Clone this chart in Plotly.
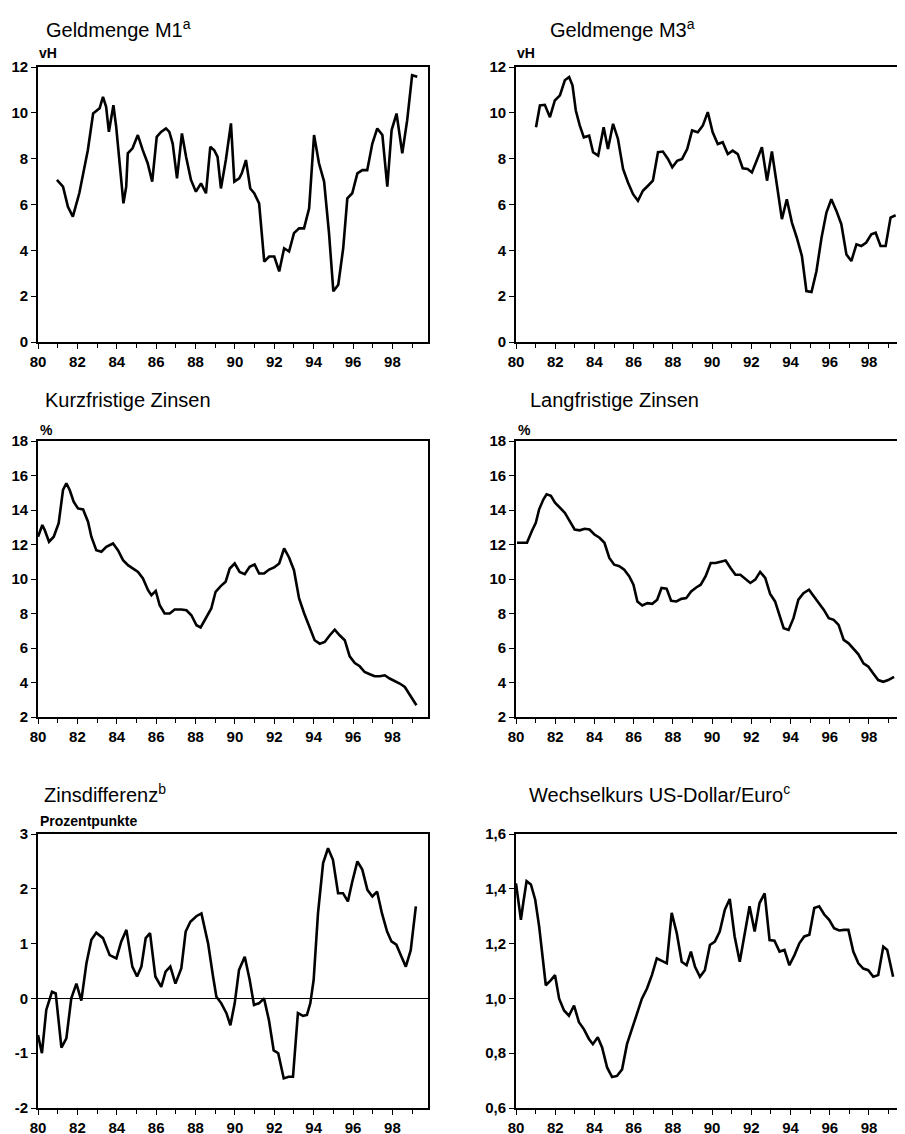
import plotly.graph_objects as go

# ---------------- data (years as 19xx decimal, values) ----------------
m1_years = [80.96, 81.27, 81.52, 81.77, 82.10, 82.36, 82.53, 82.80, 82.96, 83.13,
            83.30, 83.46, 83.60, 83.70, 83.83, 83.97, 84.17, 84.34, 84.48, 84.56,
            84.80, 85.07, 85.32, 85.57, 85.80, 86.03, 86.25, 86.50, 86.67, 86.84,
            87.06, 87.31, 87.52, 87.77, 88.02, 88.28, 88.53, 88.75, 88.95, 89.12,
            89.29, 89.54, 89.80, 89.97, 90.22, 90.35, 90.56, 90.78, 90.98, 91.23,
            91.49, 91.74, 92.00, 92.25, 92.50, 92.75, 93.00, 93.26, 93.51, 93.77,
            94.02, 94.27, 94.53, 94.78, 95.00, 95.25, 95.50, 95.71, 95.96, 96.22,
            96.47, 96.72, 96.98, 97.23, 97.49, 97.74, 97.96, 98.21, 98.50, 98.75,
            99.00, 99.26]
m1_values = [7.07, 6.78, 5.90, 5.47, 6.50, 7.65, 8.37, 9.97, 10.10, 10.20,
             10.70, 10.26, 9.17, 9.68, 10.33, 9.40, 7.65, 6.05, 6.78, 8.23,
             8.45, 9.03, 8.37, 7.80, 7.00, 8.95, 9.17, 9.32, 9.17, 8.66,
             7.14, 9.10, 8.08, 7.07, 6.56, 6.92, 6.49, 8.52, 8.37, 8.08,
             6.70, 7.94, 9.54, 7.00, 7.14, 7.36, 7.94, 6.70, 6.49, 6.05,
             3.51, 3.73, 3.73, 3.08, 4.09, 3.95, 4.75, 4.96, 4.96, 5.83,
             9.03, 7.80, 7.00, 4.75, 2.21, 2.50, 4.09, 6.27, 6.49, 7.36,
             7.50, 7.50, 8.66, 9.32, 9.03, 6.78, 9.25, 9.97, 8.23, 9.68,
             11.64, 11.57]

m3_years = [81.02, 81.22, 81.47, 81.73, 81.98, 82.24, 82.49, 82.71, 82.88, 83.05,
            83.25, 83.46, 83.73, 83.93, 84.19, 84.47, 84.69, 84.95, 85.20, 85.46,
            85.71, 85.97, 86.22, 86.47, 86.73, 86.98, 87.24, 87.49, 87.75, 87.97,
            88.22, 88.47, 88.73, 88.98, 89.27, 89.53, 89.78, 90.03, 90.29, 90.54,
            90.80, 91.05, 91.31, 91.56, 91.81, 92.03, 92.27, 92.54, 92.80, 93.05,
            93.31, 93.56, 93.81, 94.07, 94.32, 94.58, 94.81, 95.07, 95.32, 95.58,
            95.83, 96.08, 96.34, 96.59, 96.85, 97.10, 97.36, 97.61, 97.86, 98.12,
            98.34, 98.59, 98.85, 99.10, 99.36]
m3_values = [9.37, 10.32, 10.35, 9.81, 10.54, 10.76, 11.42, 11.56, 11.20, 10.10,
             9.45, 8.93, 9.00, 8.28, 8.13, 9.37, 8.42, 9.52, 8.86, 7.55,
             6.96, 6.45, 6.16, 6.60, 6.82, 7.04, 8.28, 8.31, 7.99, 7.62,
             7.91, 7.99, 8.42, 9.23, 9.15, 9.45, 10.03, 9.15, 8.64, 8.72,
             8.20, 8.35, 8.20, 7.58, 7.55, 7.40, 7.91, 8.50, 7.04, 8.31,
             6.82, 5.36, 6.23, 5.21, 4.55, 3.75, 2.22, 2.18, 3.09, 4.55,
             5.65, 6.23, 5.72, 5.14, 3.82, 3.53, 4.26, 4.19, 4.34, 4.70,
             4.77, 4.19, 4.19, 5.43, 5.53]

kurz_years = [80.00, 80.22, 80.34, 80.56, 80.80, 81.05, 81.27, 81.44, 81.61, 81.81,
              82.03, 82.29, 82.54, 82.71, 82.96, 83.22, 83.47, 83.81, 84.06, 84.32,
              84.57, 84.83, 85.08, 85.33, 85.59, 85.76, 85.98, 86.18, 86.43, 86.69,
              86.94, 87.28, 87.54, 87.79, 88.05, 88.26, 88.55, 88.80, 89.02, 89.28,
              89.53, 89.74, 89.99, 90.24, 90.50, 90.75, 91.00, 91.23, 91.48, 91.74,
              91.99, 92.25, 92.50, 92.75, 93.00, 93.26, 93.52, 93.77, 94.05, 94.31,
              94.56, 94.82, 95.07, 95.32, 95.58, 95.83, 96.09, 96.34, 96.59, 96.85,
              97.10, 97.36, 97.61, 97.86, 98.12, 98.37, 98.63, 98.88, 99.22]
kurz_values = [12.45, 13.13, 12.84, 12.16, 12.45, 13.23, 15.16, 15.55, 15.16, 14.48,
               14.09, 14.03, 13.32, 12.45, 11.67, 11.58, 11.86, 12.06, 11.67, 11.09,
               10.80, 10.61, 10.41, 10.03, 9.35, 9.06, 9.31, 8.48, 8.00, 8.00,
               8.23, 8.23, 8.19, 7.90, 7.32, 7.19, 7.81, 8.29, 9.26, 9.59,
               9.84, 10.61, 10.90, 10.41, 10.28, 10.71, 10.84, 10.32, 10.32, 10.55,
               10.67, 10.90, 11.77, 11.25, 10.51, 8.87, 8.00, 7.22, 6.45, 6.25,
               6.35, 6.74, 7.06, 6.74, 6.45, 5.52, 5.13, 4.94, 4.61, 4.48,
               4.36, 4.36, 4.42, 4.23, 4.09, 3.94, 3.74, 3.26, 2.68]

lang_years = [80.05, 80.30, 80.56, 80.81, 81.01, 81.18, 81.40, 81.56, 81.78, 81.99,
              82.24, 82.49, 82.74, 82.99, 83.25, 83.50, 83.75, 84.00, 84.26, 84.51,
              84.76, 85.01, 85.27, 85.52, 85.77, 85.99, 86.19, 86.44, 86.70, 86.95,
              87.20, 87.42, 87.68, 87.91, 88.18, 88.43, 88.68, 88.93, 89.19, 89.42,
              89.67, 89.93, 90.18, 90.43, 90.69, 90.94, 91.19, 91.44, 91.70, 91.95,
              92.20, 92.45, 92.71, 92.96, 93.21, 93.43, 93.65, 93.90, 94.15, 94.40,
              94.66, 94.94, 95.20, 95.45, 95.70, 95.95, 96.20, 96.45, 96.71, 96.96,
              97.21, 97.46, 97.72, 97.97, 98.22, 98.47, 98.73, 98.98, 99.28]
lang_values = [12.10, 12.10, 12.10, 12.78, 13.26, 14.04, 14.62, 14.91, 14.82, 14.43,
               14.14, 13.84, 13.36, 12.87, 12.82, 12.91, 12.87, 12.58, 12.39, 12.10,
               11.22, 10.83, 10.74, 10.54, 10.16, 9.67, 8.70, 8.47, 8.60, 8.56,
               8.80, 9.48, 9.44, 8.74, 8.70, 8.85, 8.89, 9.28, 9.51, 9.67,
               10.16, 10.93, 10.93, 10.99, 11.07, 10.64, 10.25, 10.25, 10.02, 9.77,
               9.96, 10.41, 10.06, 9.13, 8.70, 7.92, 7.15, 7.05, 7.73, 8.80,
               9.18, 9.38, 8.99, 8.60, 8.21, 7.73, 7.63, 7.34, 6.47, 6.27,
               5.98, 5.63, 5.11, 4.91, 4.52, 4.14, 4.04, 4.14, 4.33]

diff_years = [80.00, 80.20, 80.42, 80.71, 80.90, 81.19, 81.44, 81.69, 81.95, 82.20,
              82.46, 82.71, 82.96, 83.30, 83.64, 83.98, 84.23, 84.49, 84.79, 85.03,
              85.25, 85.47, 85.69, 85.96, 86.26, 86.48, 86.72, 86.98, 87.28, 87.50,
              87.74, 88.04, 88.30, 88.64, 88.89, 89.06, 89.31, 89.57, 89.77, 89.99,
              90.21, 90.50, 90.75, 90.97, 91.22, 91.48, 91.73, 91.97, 92.20, 92.48,
              92.73, 92.95, 93.20, 93.46, 93.66, 93.83, 94.00, 94.22, 94.48, 94.73,
              94.98, 95.24, 95.49, 95.74, 95.96, 96.22, 96.47, 96.73, 96.98, 97.22,
              97.47, 97.73, 97.95, 98.20, 98.46, 98.68, 98.93, 99.19]
diff_values = [-0.67, -1.00, -0.21, 0.12, 0.09, -0.90, -0.73, 0.00, 0.27, -0.04,
               0.64, 1.07, 1.20, 1.10, 0.79, 0.73, 1.04, 1.25, 0.58, 0.40,
               0.58, 1.10, 1.19, 0.40, 0.21, 0.49, 0.58, 0.27, 0.55, 1.22,
               1.40, 1.50, 1.55, 1.00, 0.40, 0.03, -0.09, -0.27, -0.49, -0.09,
               0.52, 0.76, 0.34, -0.12, -0.09, 0.00, -0.40, -0.95, -1.00, -1.46,
               -1.43, -1.43, -0.27, -0.32, -0.30, -0.09, 0.34, 1.55, 2.47, 2.74,
               2.53, 1.92, 1.92, 1.77, 2.13, 2.50, 2.35, 1.98, 1.86, 1.95,
               1.55, 1.22, 1.04, 0.98, 0.76, 0.58, 0.88, 1.68]

fx_years = [80.00, 80.14, 80.25, 80.37, 80.54, 80.76, 80.98, 81.18, 81.35, 81.52,
            81.77, 81.99, 82.20, 82.45, 82.70, 82.96, 83.21, 83.46, 83.72, 83.92,
            84.17, 84.39, 84.65, 84.90, 85.15, 85.41, 85.66, 85.92, 86.17, 86.42,
            86.68, 86.93, 87.18, 87.44, 87.69, 87.94, 88.20, 88.45, 88.70, 88.92,
            89.13, 89.38, 89.63, 89.89, 90.14, 90.39, 90.65, 90.90, 91.15, 91.41,
            91.66, 91.91, 92.17, 92.42, 92.68, 92.93, 93.18, 93.44, 93.69, 93.94,
            94.20, 94.45, 94.70, 94.96, 95.21, 95.46, 95.72, 95.97, 96.22, 96.48,
            96.73, 96.95, 97.20, 97.46, 97.71, 97.96, 98.22, 98.47, 98.73, 98.93,
            99.23]
fx_values = [1.420, 1.336, 1.287, 1.348, 1.428, 1.416, 1.360, 1.263, 1.152, 1.048,
             1.066, 1.085, 0.999, 0.956, 0.937, 0.974, 0.913, 0.888, 0.852, 0.833,
             0.858, 0.821, 0.747, 0.713, 0.717, 0.741, 0.833, 0.888, 0.944, 0.999,
             1.036, 1.085, 1.146, 1.137, 1.128, 1.312, 1.238, 1.134, 1.121, 1.171,
             1.115, 1.079, 1.103, 1.195, 1.207, 1.244, 1.324, 1.363, 1.226, 1.134,
             1.232, 1.336, 1.244, 1.348, 1.383, 1.213, 1.211, 1.171, 1.177, 1.121,
             1.158, 1.201, 1.226, 1.232, 1.330, 1.336, 1.306, 1.287, 1.256, 1.248,
             1.250, 1.250, 1.171, 1.128, 1.109, 1.103, 1.079, 1.085, 1.189, 1.177,
             1.079]

x_tick_years = [80, 82, 84, 86, 88, 90, 92, 94, 96, 98]
x_tick_labels = ["80", "82", "84", "86", "88", "90", "92", "94", "96", "98"]

m_ticks = [0, 2, 4, 6, 8, 10, 12]
rate_ticks = [2, 4, 6, 8, 10, 12, 14, 16, 18]
diff_ticks = [-2, -1, 0, 1, 2, 3]
diff_labels = ["-2", "-1", "0", "1", "2", "3"]
fx_ticks = [0.6, 0.8, 1.0, 1.2, 1.4, 1.6]
fx_labels = ["0,6", "0,8", "1,0", "1,2", "1,4", "1,6"]

titles = ["Geldmenge M1<sup>a</sup>", "Geldmenge M3<sup>a</sup>",
          "Kurzfristige Zinsen", "Langfristige Zinsen",
          "Zinsdifferenz<sup>b</sup>", "Wechselkurs US-Dollar/Euro<sup>c</sup>"]
units = ["vH", "vH", "%", "%", "Prozentpunkte", ""]

# ---------------- layout geometry ----------------
# page pixels (the page body adds an 8px offset to the figure)
W, H = 905, 1134
OFF = 8
FONT = "Liberation Sans, Arial, Helvetica, sans-serif"


def px_x(p):
    return (p - OFF) / W


def px_y(p):
    return 1 - (p - OFF) / H


left_dom = [px_x(38), px_x(428)]
right_dom = [px_x(516), px_x(913)]
left_range = [80, 80 + (428 - 38) / 19.69]
right_range = [80, 80 + (913 - 516) / 19.61]
rows = [(67, 342), (441, 717), (834, 1108)]

fig = go.Figure()

series = [(m1_years, m1_values), (m3_years, m3_values),
          (kurz_years, kurz_values), (lang_years, lang_values),
          (diff_years, diff_values), (fx_years, fx_values)]

yranges = [[0, 12], [0, 12], [2, 18], [2, 18], [-2, 3], [0.6, 1.6]]
ytick_vals = [m_ticks, m_ticks, rate_ticks, rate_ticks, diff_ticks, fx_ticks]
ytick_text = [[str(v) for v in m_ticks], [str(v) for v in m_ticks],
              [str(v) for v in rate_ticks], [str(v) for v in rate_ticks],
              diff_labels, fx_labels]

layout = dict(
    width=W, height=H,
    margin=dict(l=0, r=0, t=0, b=0, autoexpand=False),
    paper_bgcolor="white", plot_bgcolor="white",
    showlegend=False,
    font=dict(family=FONT, color="black"),
)

annotations = []
title_pos = [(44, 29), (548, 29), (43, 400), (528, 400), (42, 793), (527, 793)]
unit_pos = [(37, 53), (515, 53), (38, 430), (516, 430), (38, 821), (0, 0)]

for i, ((xs, ys), yr) in enumerate(zip(series, yranges)):
    r, c = divmod(i, 2)
    n = i + 1
    xa = "x" if n == 1 else f"x{n}"
    ya = "y" if n == 1 else f"y{n}"
    fig.add_trace(go.Scatter(x=xs, y=ys, mode="lines", xaxis=xa, yaxis=ya,
                             line=dict(color="black", width=2.6),
                             hoverinfo="skip", cliponaxis=False))
    top, bot = rows[r]
    xkey = "xaxis" if n == 1 else f"xaxis{n}"
    ykey = "yaxis" if n == 1 else f"yaxis{n}"
    layout[xkey] = dict(
        domain=left_dom if c == 0 else right_dom,
        anchor=ya, range=left_range if c == 0 else right_range,
        automargin=False,
        tickmode="array", tickvals=x_tick_years, ticktext=x_tick_labels,
        ticks="outside", ticklen=5, tickwidth=1.3, tickcolor="black",
        minor=dict(ticks="outside", dtick=1, tick0=80, ticklen=4,
                   tickcolor="black", tickwidth=1.2),
        showline=True, linecolor="black", linewidth=1.8, mirror=True,
        showgrid=False, zeroline=False,
        tickfont=dict(family=FONT, size=15, color="black", weight="bold"),
        fixedrange=True,
    )
    layout[ykey] = dict(
        domain=[px_y(bot), px_y(top)], anchor=xa, range=yr, automargin=False,
        tickmode="array", tickvals=ytick_vals[i], ticktext=ytick_text[i],
        ticks="outside", ticklen=5, tickwidth=1.3, tickcolor="black",
        showline=True, linecolor="black", linewidth=1.8, mirror=True,
        showgrid=False,
        zeroline=(i == 4), zerolinecolor="black", zerolinewidth=1.2,
        tickfont=dict(family=FONT, size=15, color="black", weight="bold"),
        fixedrange=True,
    )
    tx, ty = title_pos[i]
    annotations.append(dict(text=titles[i], x=px_x(tx), y=px_y(ty),
                            xref="paper", yref="paper", xanchor="left",
                            yanchor="middle", showarrow=False,
                            font=dict(family=FONT, size=20, color="black")))
    if units[i]:
        ux, uy = unit_pos[i]
        annotations.append(dict(text=units[i], x=px_x(ux), y=px_y(uy),
                                xref="paper", yref="paper", xanchor="left",
                                yanchor="middle", showarrow=False,
                                font=dict(family=FONT, size=14, color="black",
                                          weight="bold")))

layout["annotations"] = annotations
fig.update_layout(**layout)
fig.write_html("out.html")
